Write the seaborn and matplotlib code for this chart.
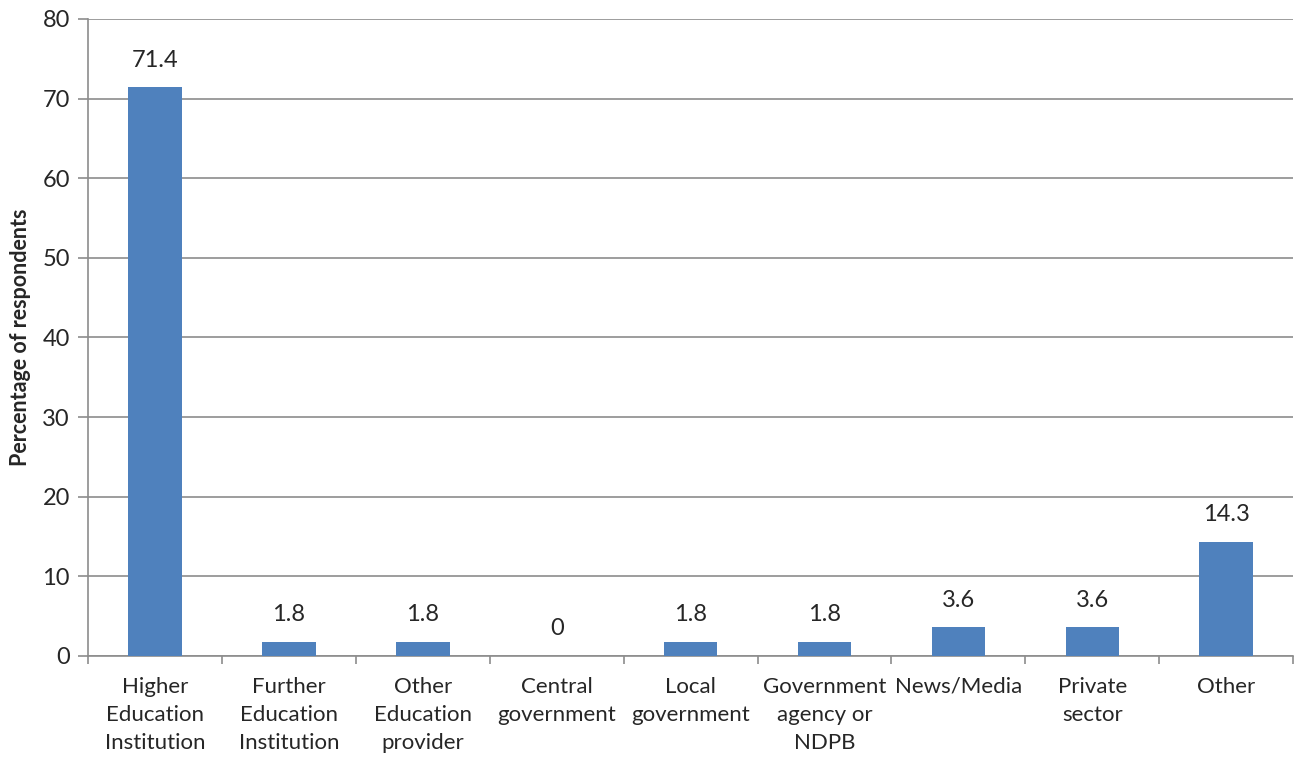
import matplotlib
matplotlib.use("Agg")
import matplotlib.pyplot as plt
import seaborn as sns
import pandas as pd
import numpy as np

categories = ["Higher\nEducation\nInstitution", "Further\nEducation\nInstitution",
              "Other\nEducation\nprovider", "Central\ngovernment", "Local\ngovernment",
              "Government\nagency or\nNDPB", "News/Media", "Private\nsector", "Other"]
values = [71.4, 1.8, 1.8, 0, 1.8, 1.8, 3.6, 3.6, 14.3]
value_labels = ["71.4", "1.8", "1.8", "0", "1.8", "1.8", "3.6", "3.6", "14.3"]
yticks = [0, 10, 20, 30, 40, 50, 60, 70, 80]

sns.set_style("white")
plt.rcParams['font.family'] = ['Lato', 'DejaVu Sans']

fig = plt.figure(figsize=(12.98, 7.58), dpi=100)
ax = fig.add_axes([0.0678, 0.1346, 0.9285, 0.8404])

df = pd.DataFrame({"cat": categories, "val": values})
sns.barplot(data=df, x="cat", y="val", color="#4F81BD", saturation=1, width=0.4,
            linewidth=0, ax=ax, zorder=3)

ax.set_xlim(-0.5, len(categories) - 0.5)
ax.set_ylim(0, 80)
ax.set_yticks(yticks)
ax.yaxis.grid(True, color="#8C8C8C", linewidth=1.2, zorder=0)
ax.set_axisbelow(True)

for s in ["top", "right"]:
    ax.spines[s].set_visible(False)
for s in ["left", "bottom"]:
    ax.spines[s].set_color("#8C8C8C")
    ax.spines[s].set_linewidth(1.2)

ax.tick_params(axis="y", length=7, width=1.2, color="#8C8C8C", labelsize=17, pad=6, direction="out", left=True)
ax.set_xticks(np.arange(len(categories)))
ax.set_xticklabels(categories, fontsize=16, linespacing=1.5, va="top")
ax.tick_params(axis="x", which="major", length=0, pad=15)
ax.set_xticks(np.arange(-0.5, len(categories), 1.0), minor=True)
ax.tick_params(axis="x", which="minor", length=6, width=1.2, color="#8C8C8C", direction="out", bottom=True)

for p, lab in zip(ax.patches, value_labels):
    x = p.get_x() + p.get_width() / 2
    ax.annotate(lab, (x, p.get_height()), xytext=(0, 12), textcoords="offset points",
                ha="center", va="bottom", fontsize=17)

ax.set_xlabel("")
ax.set_ylabel("Percentage of respondents", fontsize=15.5, fontweight="bold", labelpad=8)

fig.savefig("out.png", dpi=100)
